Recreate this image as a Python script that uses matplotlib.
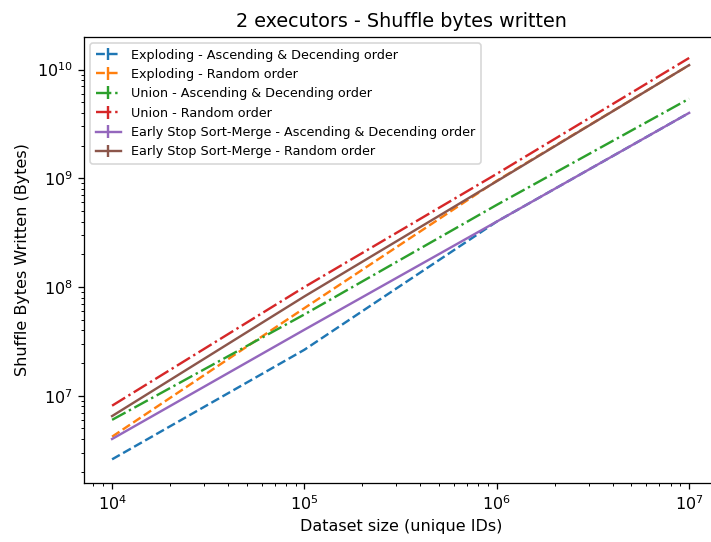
import numpy as np
import matplotlib
matplotlib.use("Agg")
import matplotlib.pyplot as plt

# dataset sizes (unique IDs)
sizes = [1e4, 1e5, 1e6, 1e7]

# shuffle bytes written per strategy
exploding_sorted = [2.6e6, 2.65e7, 4.0e8, 4.0e9]
exploding_random = [4.2e6, 6.4e7, 9.5e8, 1.1e10]
union_sorted = [6.0e6, 5.6e7, 5.7e8, 5.4e9]
union_random = [8.1e6, 1.0e8, 1.1e9, 1.28e10]
earlystop_sorted = [4.0e6, 4.05e7, 4.0e8, 4.0e9]
earlystop_random = [6.5e6, 8.2e7, 9.4e8, 1.1e10]

series = [
    ("Exploding - Ascending & Decending order", exploding_sorted, "--"),
    ("Exploding - Random order", exploding_random, "--"),
    ("Union - Ascending & Decending order", union_sorted, "-."),
    ("Union - Random order", union_random, "-."),
    ("Early Stop Sort-Merge - Ascending & Decending order", earlystop_sorted, "-"),
    ("Early Stop Sort-Merge - Random order", earlystop_random, "-"),
]

W, H, DPI = 711, 542, 115
fig = plt.figure(figsize=(W / DPI, H / DPI), dpi=DPI)
left, right, top, bottom = 84, 718, 37, 482.7
ax = fig.add_axes([left / W, (H - bottom) / H, (right - left) / W, (bottom - top) / H])

for label, vals, ls in series:
    ax.errorbar(sizes, vals, yerr=np.zeros(len(vals)), linestyle=ls, label=label)

ax.set_xscale("log")
ax.set_yscale("log")
ax.set_xlim(10 ** 3.854, 10 ** 7.15)
ax.set_ylim(10 ** 6.20, 10 ** 10.30)
ax.spines["right"].set_visible(False)  # falls outside the saved canvas
ax.set_title("2 executors - Shuffle bytes written")
ax.set_xlabel("Dataset size (unique IDs)")
ax.set_ylabel("Shuffle Bytes Written (Bytes)")
ax.legend(loc="upper left", fontsize=8)

fig.savefig("out.png", dpi=DPI)
